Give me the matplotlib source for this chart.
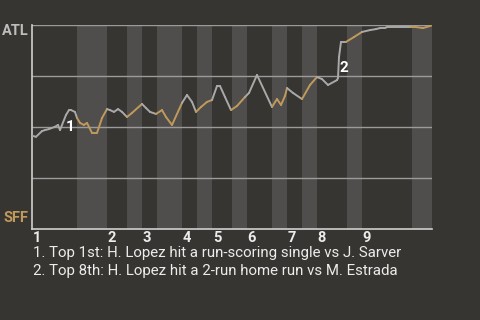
"""
Win probability chart, ATL at SFF, redrawn from a screenshot.
"""

import matplotlib

matplotlib.use("Agg")
import matplotlib.pyplot as plt
import matplotlib.transforms as mtransforms
import numpy as np

# plays per half inning (top 1, bottom 1, top 2, ...)
half_inning_plays = [9, 6, 4, 3, 3, 5, 3, 3, 4, 3, 5, 3, 3, 3, 6, 3, 10, 4]
inning_labels = ["1", "2", "3", "4", "5", "6", "7", "8", "9"]

# game progress (in plays) and ATL win probability (%)
play_x = [
    0, 0.8, 2, 2.6, 3.4, 4.6, 5.2, 5.6, 6.8, 7.4, 7.8, 8.6, 9.0,
    9.6, 10.4, 11, 12, 13, 14, 15,
    15.6, 16.4, 17.2, 18, 19,
    20, 22,
    22.8, 23.6, 24.8,
    26, 26.8, 28, 30,
    31, 32, 32.8,
    33.8, 35, 36,
    37, 37.6, 38.6, 39.8,
    41, 42.6, 43.4,
    45, 48,
    49, 49.8, 50.6,
    51, 52.2, 54,
    55.6, 57,
    58, 59.2, 61.0, 61.2, 61.4, 61.8, 62.8,
    64.4, 66,
    67.6, 68.8, 69.6, 70.6, 71, 75.8,
    76.8, 78.2, 79.6, 80,
]
atl_win_pct = [
    45.7, 45.2, 48.0, 48.5, 49.0, 50.1, 51.0, 48.5, 55.9, 58.3, 58.3, 57.4, 54.4,
    52.0, 51.0, 52.0, 47.1, 47.1, 54.4, 58.8,
    58.3, 57.4, 58.8, 57.4, 54.9,
    56.9, 61.3,
    59.3, 57.4, 56.4,
    58.3, 54.9, 51.0, 61.8,
    65.7, 62.3, 57.4,
    59.8, 62.3, 63.2,
    70.1, 70.1, 64.7, 58.3,
    60.3, 64.7, 66.7,
    75.5, 59.8,
    63.7, 60.8, 65.2,
    69.1, 66.7, 63.7,
    70.6, 74.5,
    73.5, 70.6, 73.0, 74.0, 84.3, 91.7, 91.7,
    94.1, 96.6,
    97.5, 98.0, 98.5, 98.5, 99.0, 99.0,
    99.0, 98.5, 99.5, 100.0,
]

notes = [
    "1. Top 1st: H. Lopez hit a run-scoring single vs J. Sarver",
    "2. Top 8th: H. Lopez hit a 2-run home run vs M. Estrada",
]
note_marks = [("1", 6.8, 50.0), ("2", 61.4, 79.0)]

BG = "#373532"
BAND = "#4f4e4c"
GRID = "#9c9b99"
AXIS = "#cfcfcf"
ATL_COLOR = "#a9a9a9"
SFF_COLOR = "#c09a5a"
TEXT = "#ececec"

plt.rcParams["font.family"] = ["Roboto", "DejaVu Sans"]

fig = plt.figure(figsize=(4.8, 3.2), dpi=100, facecolor=BG)
ax = fig.add_axes([32 / 480, 1 - 229 / 320, 400 / 480, 204 / 320])
ax.set_facecolor(BG)

bounds = np.concatenate([[0], np.cumsum(half_inning_plays)])
total = bounds[-1]
ax.set_xlim(0, total)
ax.set_ylim(0, 100)

# shade bottom halves
for i in range(1, len(half_inning_plays), 2):
    ax.axvspan(bounds[i], bounds[i + 1], color=BAND, lw=0, zorder=0)

for y in (25, 50, 75, 100):
    ax.axhline(y, color=GRID, lw=1, zorder=1)

# line colored by which team is batting
xs = np.asarray(play_x, dtype=float)
ys = np.asarray(atl_win_pct, dtype=float)
for i in range(len(xs) - 1):
    mid = (xs[i] + xs[i + 1]) / 2
    half = np.searchsorted(bounds, mid, side="right") - 1
    color = ATL_COLOR if half % 2 == 0 else SFF_COLOR
    ax.plot(xs[i:i + 2], ys[i:i + 2], color=color, lw=1.4,
            solid_capstyle="round", zorder=3)

for label, x, y in note_marks:
    ax.text(x, y, label, color="white", fontsize=11, fontweight="bold",
            ha="left", va="center", zorder=4)

for s in ("top", "right"):
    ax.spines[s].set_visible(False)
for s in ("left", "bottom"):
    ax.spines[s].set_color(AXIS)
    ax.spines[s].set_linewidth(1.2)
ax.set_xticks([])
ax.set_yticks([])

trans = mtransforms.blended_transform_factory(ax.transData, fig.transFigure)
for k, lab in enumerate(inning_labels):
    ax.text(bounds[2 * k] + 0.15, 1 - 238 / 320, lab, transform=trans,
            color=TEXT, fontsize=10.5, fontweight="bold", ha="left", va="center")

ax.text(-0.008, 97, "ATL", transform=ax.get_yaxis_transform(), color="#bdbdbd",
        fontsize=10.5, fontweight="bold", ha="right", va="center")
ax.text(-0.008, 5.5, "SFF", transform=ax.get_yaxis_transform(), color=SFF_COLOR,
        fontsize=10.5, fontweight="bold", ha="right", va="center")

for k, note in enumerate(notes):
    fig.text(33 / 480, 1 - (253 + 18 * k) / 320, note, color=TEXT,
             fontsize=10.8, ha="left", va="center")

fig.savefig("out.png", dpi=100, facecolor=BG)
